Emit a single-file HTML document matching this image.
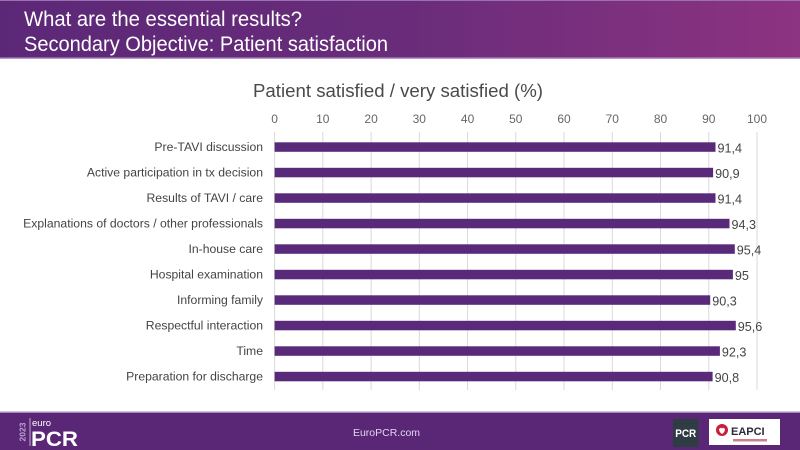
<!DOCTYPE html>
<html><head><meta charset="utf-8"><style>
html,body{margin:0;padding:0;background:#fff;}
svg{display:block;font-family:"Liberation Sans",sans-serif;}
</style></head><body>
<svg width="800" height="450" viewBox="0 0 800 450" xmlns="http://www.w3.org/2000/svg">
<defs>
<linearGradient id="hg" x1="0" y1="0" x2="1" y2="0">
<stop offset="0" stop-color="#5b2877"/>
<stop offset="0.5" stop-color="#692c7a"/>
<stop offset="1" stop-color="#8c3381"/>
</linearGradient>
</defs>
<rect x="0" y="0" width="800" height="450" fill="#fff"/>
<!-- header -->
<rect x="0" y="0" width="800" height="58" fill="url(#hg)"/>
<rect x="0" y="0" width="800" height="1" fill="#9a70b0"/>
<rect x="0" y="57.5" width="800" height="1.5" fill="#b898c8"/>
<text x="24" y="26" font-size="21" fill="#fff" textLength="278" lengthAdjust="spacingAndGlyphs">What are the essential results?</text>
<text x="24" y="51" font-size="21" fill="#fff" textLength="364" lengthAdjust="spacingAndGlyphs">Secondary Objective: Patient satisfaction</text>

<!-- chart title -->
<text x="398" y="97" font-size="18.6" fill="#4a4a4a" text-anchor="middle" textLength="290" lengthAdjust="spacingAndGlyphs">Patient satisfied / very satisfied (%)</text>

<!-- gridlines -->
<g stroke="#d9d9d9" stroke-width="1">
<line x1="274.6" y1="132" x2="274.6" y2="390"/>
<line x1="322.8" y1="132" x2="322.8" y2="390"/>
<line x1="371.1" y1="132" x2="371.1" y2="390"/>
<line x1="419.3" y1="132" x2="419.3" y2="390"/>
<line x1="467.6" y1="132" x2="467.6" y2="390"/>
<line x1="515.8" y1="132" x2="515.8" y2="390"/>
<line x1="564.0" y1="132" x2="564.0" y2="390"/>
<line x1="612.3" y1="132" x2="612.3" y2="390"/>
<line x1="660.5" y1="132" x2="660.5" y2="390"/>
<line x1="708.8" y1="132" x2="708.8" y2="390"/>
<line x1="757.0" y1="132" x2="757.0" y2="390"/>
</g>
<!-- tick labels -->
<g font-size="12" fill="#666" text-anchor="middle">
<text x="274.6" y="123">0</text>
<text x="322.8" y="123">10</text>
<text x="371.1" y="123">20</text>
<text x="419.3" y="123">30</text>
<text x="467.6" y="123">40</text>
<text x="515.8" y="123">50</text>
<text x="564.0" y="123">60</text>
<text x="612.3" y="123">70</text>
<text x="660.5" y="123">80</text>
<text x="708.8" y="123">90</text>
<text x="757.0" y="123">100</text>
</g>

<!-- bars -->
<g fill="#5a2a7a">
<rect x="274.6" y="142.3" width="440.9" height="9.5"/>
<rect x="274.6" y="167.8" width="438.5" height="9.5"/>
<rect x="274.6" y="193.3" width="440.9" height="9.5"/>
<rect x="274.6" y="218.8" width="454.9" height="9.5"/>
<rect x="274.6" y="244.3" width="460.2" height="9.5"/>
<rect x="274.6" y="269.8" width="458.3" height="9.5"/>
<rect x="274.6" y="295.3" width="435.6" height="9.5"/>
<rect x="274.6" y="320.8" width="461.2" height="9.5"/>
<rect x="274.6" y="346.3" width="445.3" height="9.5"/>
<rect x="274.6" y="371.8" width="438.0" height="9.5"/>
</g>

<!-- category labels -->
<g font-size="12.2" fill="#444" text-anchor="end">
<text x="263" y="151">Pre-TAVI discussion</text>
<text x="263" y="176.5">Active participation in tx decision</text>
<text x="263" y="202">Results of TAVI / care</text>
<text x="263" y="227.5">Explanations of doctors / other professionals</text>
<text x="263" y="253">In-house care</text>
<text x="263" y="278.5">Hospital examination</text>
<text x="263" y="304">Informing family</text>
<text x="263" y="329.5">Respectful interaction</text>
<text x="263" y="355">Time</text>
<text x="263" y="380.5">Preparation for discharge</text>
</g>

<!-- value labels -->
<g font-size="12.6" fill="#444">
<text x="717.5" y="152.3">91,4</text>
<text x="715.1" y="177.8">90,9</text>
<text x="717.5" y="203.3">91,4</text>
<text x="731.5" y="228.8">94,3</text>
<text x="736.8" y="254.3">95,4</text>
<text x="734.9" y="279.8">95</text>
<text x="712.2" y="305.3">90,3</text>
<text x="737.8" y="330.8">95,6</text>
<text x="721.9" y="356.3">92,3</text>
<text x="714.6" y="381.8">90,8</text>
</g>

<!-- footer -->
<rect x="0" y="412" width="800" height="38" fill="#5a2777"/>
<rect x="0" y="411.5" width="800" height="1.5" fill="#a888bc"/>
<text x="386.5" y="436" font-size="10.5" fill="#e2d4ec" text-anchor="middle">EuroPCR.com</text>

<!-- left logo -->
<text transform="translate(25.5,432) rotate(-90)" font-size="8.5" font-weight="bold" fill="#bca6cc" text-anchor="middle">2023</text>
<line x1="30" y1="418" x2="30" y2="446" stroke="#d8c8e4" stroke-width="0.8"/>
<text x="32" y="426" font-size="9.5" fill="#fff">euro</text>
<text x="31" y="446" font-size="21" font-weight="bold" fill="#fff" textLength="47" lengthAdjust="spacingAndGlyphs">PCR</text>

<!-- right logos -->
<rect x="673" y="419" width="25.5" height="28" fill="#303c44"/>
<text x="685.7" y="437" font-size="11" font-weight="bold" fill="#fff" text-anchor="middle" textLength="21" lengthAdjust="spacingAndGlyphs">PCR</text>
<rect x="709" y="419" width="71" height="26" fill="#fff"/>
<circle cx="722" cy="430" r="6" fill="#c8203a"/>
<path d="M719 429 q3 -3 3 1 q0 -4 3 -1 q0 3 -3 5 q-3 -2 -3 -5z" fill="#fff"/>
<text x="731" y="435" font-size="11" font-weight="bold" fill="#2a2a3a">EAPCI</text>
<rect x="733" y="439" width="34" height="2.5" fill="#c98090"/>
</svg>
</body></html>
